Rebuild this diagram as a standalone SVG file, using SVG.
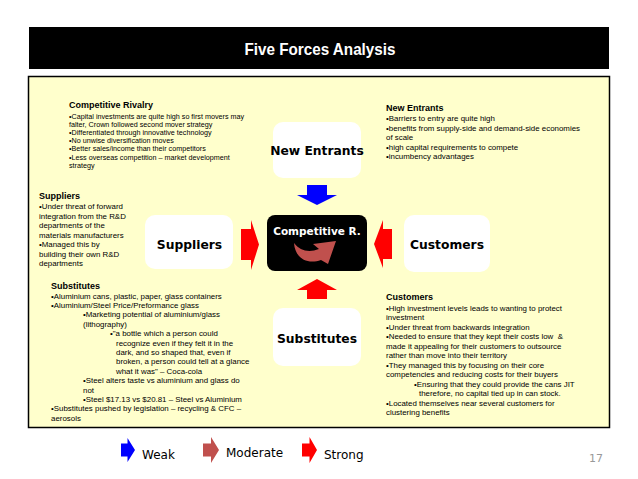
<svg xmlns="http://www.w3.org/2000/svg" width="638" height="479" viewBox="0 0 638 479">
<defs>
<style>
.node{fill:#ffffff}
.lbl{font-family:"DejaVu Sans",Verdana,sans-serif;font-weight:bold;font-size:12.3px;fill:#000;text-anchor:middle}
.hd{font-family:"Liberation Sans",Arial,sans-serif;font-weight:bold;font-size:9px;fill:#000}
.tx{font-family:"Liberation Sans",Arial,sans-serif;font-size:7.9px;fill:#000;white-space:pre}
.txs{font-family:"Liberation Sans",Arial,sans-serif;font-size:7.2px;fill:#000}
.leg{font-family:"DejaVu Sans",Verdana,sans-serif;font-size:12px;fill:#000}
.red{fill:#ff0000}
.blue{fill:#0000ff}
.mod{fill:#c0504d}
</style>
</defs>
<rect x="0" y="0" width="638" height="479" fill="#ffffff"/>
<rect x="29" y="27" width="580" height="42" fill="#000000"/>
<text x="320" y="55" font-family="Liberation Sans, Arial, sans-serif" font-weight="bold" font-size="17" fill="#ffffff" text-anchor="middle" textLength="151" lengthAdjust="spacingAndGlyphs">Five Forces Analysis</text>
<rect x="28.5" y="76.5" width="581" height="351" fill="#ffffcc" stroke="#000" stroke-width="1.5"/>

<g id="text-rivalry">
<text class="hd" x="69" y="107.5">Competitive Rivalry</text>
<text class="txs" x="69" y="118.5">•Capital investments are quite high so first movers may</text>
<text class="txs" x="69" y="126.7">falter, Crown followed second mover strategy</text>
<text class="txs" x="69" y="134.9">•Differentiated through innovative technology</text>
<text class="txs" x="69" y="143.1">•No unwise diversification moves</text>
<text class="txs" x="69" y="151.3">•Better sales/income than their competitors</text>
<text class="txs" x="69" y="159.5">•Less overseas competition – market development</text>
<text class="txs" x="69" y="167.7">strategy</text>
</g>

<g id="text-entrants">
<text class="hd" x="386" y="111">New Entrants</text>
<text class="tx" x="386" y="121">•Barriers to entry are quite high</text>
<text class="tx" x="386" y="130.5">•benefits from supply-side and demand-side economies</text>
<text class="tx" x="386" y="140">of scale</text>
<text class="tx" x="386" y="149.5">•high capital requirements to compete</text>
<text class="tx" x="386" y="159">•incumbency advantages</text>
</g>

<g id="text-suppliers">
<text class="hd" x="39" y="199">Suppliers</text>
<text class="tx" x="39" y="209">•Under threat of forward</text>
<text class="tx" x="39" y="218.5">integration from the R&amp;D</text>
<text class="tx" x="39" y="228">departments of the</text>
<text class="tx" x="39" y="237.5">materials manufacturers</text>
<text class="tx" x="39" y="247">•Managed this by</text>
<text class="tx" x="39" y="256.5">building their own R&amp;D</text>
<text class="tx" x="39" y="266">departments</text>
</g>

<g id="text-substitutes">
<text class="hd" x="51" y="288.5">Substitutes</text>
<text class="tx" x="51" y="298.5">•Aluminium cans, plastic, paper, glass containers</text>
<text class="tx" x="51" y="307.9">•Aluminium/Steel Price/Preformance glass</text>
<text class="tx" x="83" y="317.3">•Marketing potential of aluminium/glass</text>
<text class="tx" x="83" y="326.7">(lithography)</text>
<text class="tx" x="110" y="336.1">•"a bottle which a person could</text>
<text class="tx" x="116" y="345.5">recognize even if they felt it in the</text>
<text class="tx" x="116" y="354.9">dark, and so shaped that, even if</text>
<text class="tx" x="116" y="364.3">broken, a person could tell at a glance</text>
<text class="tx" x="116" y="373.7">what it was" – Coca-cola</text>
<text class="tx" x="83" y="383.1">•Steel alters taste vs aluminium and glass do</text>
<text class="tx" x="83" y="392.5">not</text>
<text class="tx" x="83" y="401.9">•Steel $17.13 vs $20.81 – Steel vs Aluminium</text>
<text class="tx" x="51" y="411.3">•Substitutes pushed by legislation – recycling &amp; CFC –</text>
<text class="tx" x="51" y="420.7">aerosols</text>
</g>

<g id="text-customers">
<text class="hd" x="386" y="300">Customers</text>
<text class="tx" x="386" y="310.5">•High investment levels leads to wanting to protect</text>
<text class="tx" x="386" y="320">investment</text>
<text class="tx" x="386" y="329.5">•Under threat from backwards integration</text>
<text class="tx" x="386" y="339" xml:space="preserve">•Needed to ensure that they kept their costs low  &amp;</text>
<text class="tx" x="386" y="348.5">made it appealing for their customers to outsource</text>
<text class="tx" x="386" y="358">rather than move into their territory</text>
<text class="tx" x="386" y="367.5">•They managed this by focusing on their core</text>
<text class="tx" x="386" y="377">competencies and reducing costs for their buyers</text>
<text class="tx" x="414" y="386.5">•Ensuring that they could provide the cans JIT</text>
<text class="tx" x="419" y="396">therefore, no capital tied up in can stock.</text>
<text class="tx" x="386" y="405.5">•Located themselves near several customers for</text>
<text class="tx" x="386" y="415">clustering benefits</text>
</g>

<g id="node-new-entrants">
<rect class="node" x="273" y="122" width="88" height="56" rx="10"/>
<text class="lbl" x="317" y="155">New Entrants</text>
</g>
<g id="node-suppliers">
<rect class="node" x="145" y="215" width="88" height="54" rx="10"/>
<text class="lbl" x="189.5" y="248.5">Suppliers</text>
</g>
<g id="node-customers">
<rect class="node" x="404" y="215" width="86" height="57" rx="10"/>
<text class="lbl" x="447" y="248.5">Customers</text>
</g>
<g id="node-substitutes">
<rect class="node" x="273" y="308" width="88" height="58" rx="10"/>
<text class="lbl" x="317" y="342.5">Substitutes</text>
</g>
<g id="node-competitive">
<rect x="267" y="215" width="100" height="56" rx="8" fill="#000"/>
<text x="317" y="235" font-family="DejaVu Sans, Verdana, sans-serif" font-weight="bold" font-size="10.5" fill="#fff" text-anchor="middle">Competitive R.</text>
<path class="mod" d="M294,243 C295,258 307,265 321,260 L328,264 L336,241 L313,244 L319,249 C309,253 300,251 294,243 Z"/>
</g>

<g id="connectors">
<polygon class="blue" points="307,185 327,185 327,195 337,195 317,205 297,195 307,195"/>
<polygon class="red" points="241,229 251,229 251,220 259,244.5 251,270 251,260 241,260"/>
<polygon class="red" points="392,229 383,229 383,220 374,244 383,268 383,259 392,259"/>
<polygon class="red" points="317,279 337,290 327,290 327,299 307,299 307,290 297,290"/>
</g>

<g id="legend">
<polygon class="blue" points="121,443.5 127.5,443.5 127.5,438 135,450 127.5,462 127.5,456.5 121,456.5"/>
<text class="leg" x="142" y="459">Weak</text>
<polygon class="mod" points="203,443.5 211,443.5 211,437 219,450 211,463 211,456.5 203,456.5"/>
<text class="leg" x="226" y="457">Moderate</text>
<polygon class="red" points="302,443.5 309.5,443.5 309.5,437 317,450 309.5,463 309.5,456.5 302,456.5"/>
<text class="leg" x="324" y="459">Strong</text>
<text x="589" y="462" font-family="DejaVu Sans, Verdana, sans-serif" font-size="11" fill="#999">17</text>
</g>
</svg>
